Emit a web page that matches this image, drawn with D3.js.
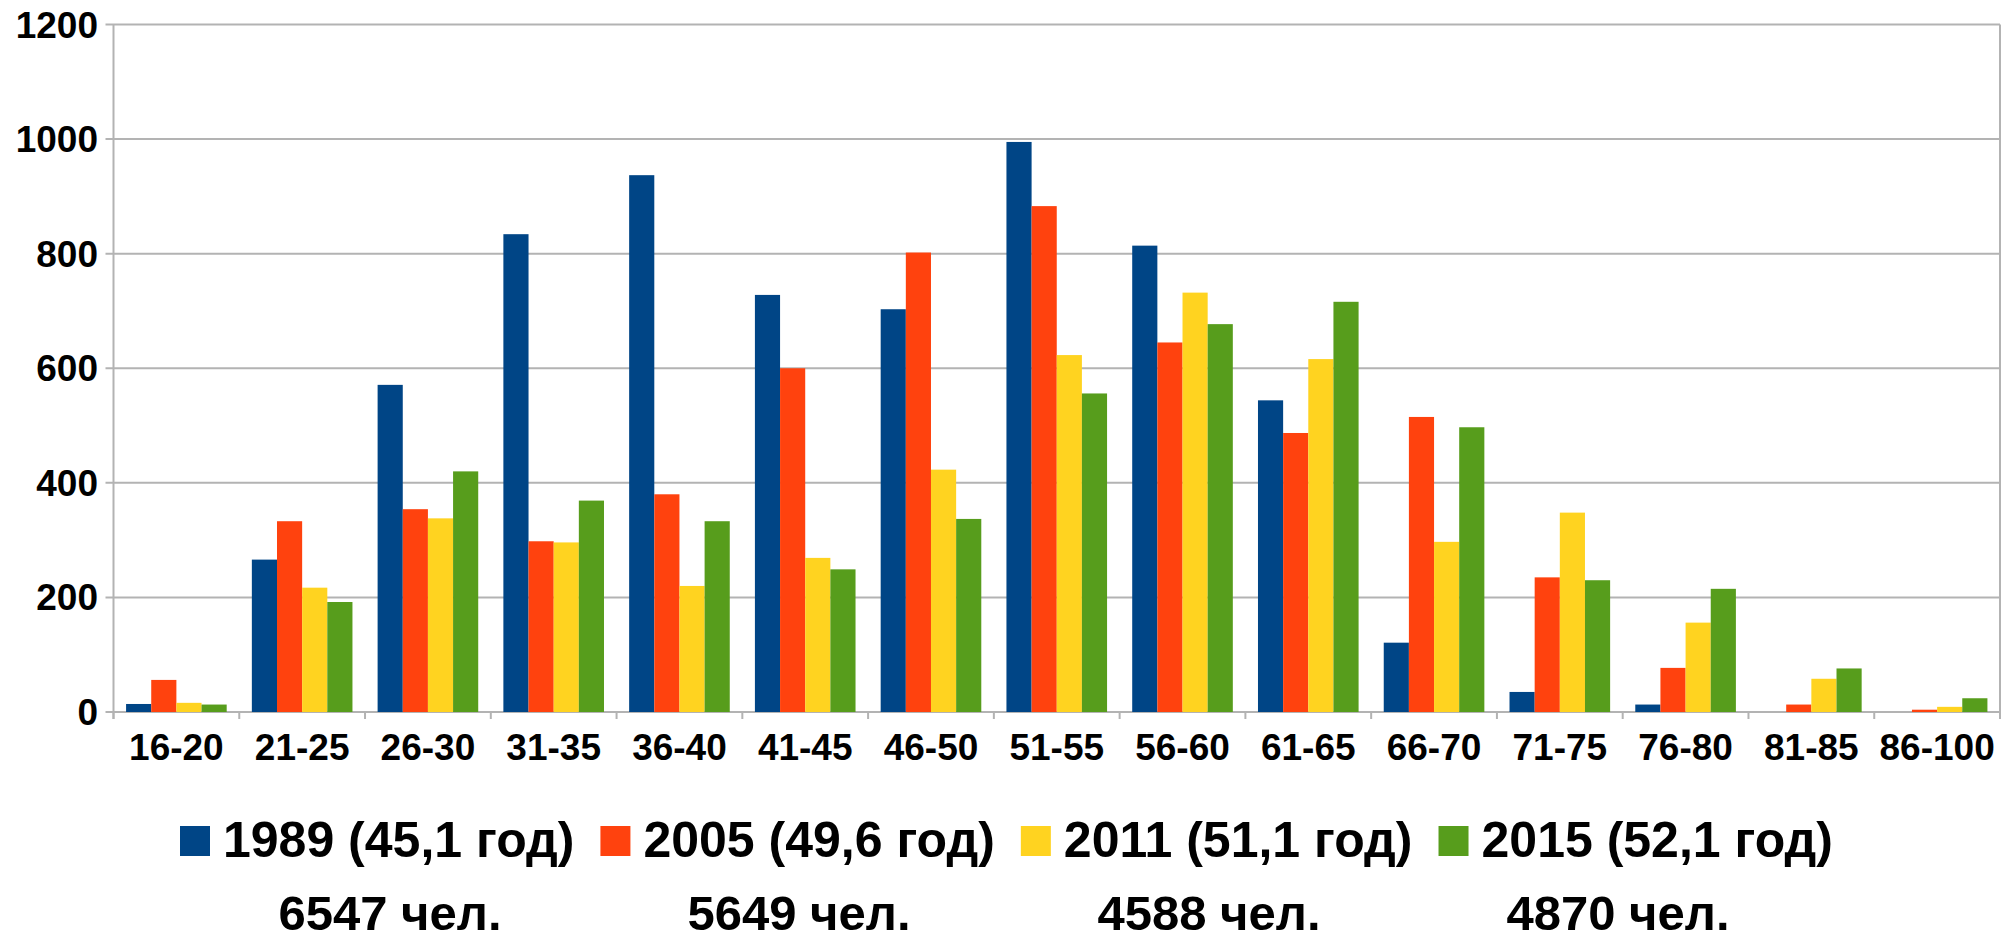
<!DOCTYPE html>
<html>
<head>
<meta charset="utf-8">
<script src="https://d3js.org/d3.v7.min.js"></script>
<style>
  body { margin: 0; background: #fff; }
  text { font-family: "Liberation Sans", Arial, sans-serif; font-weight: bold; fill: #000; }
</style>
</head>
<body>
<svg id="chart" width="2014" height="941"></svg>
<script>
// age groups along the x axis
const ageGroups = ['16-20', '21-25', '26-30', '31-35', '36-40', '41-45', '46-50', '51-55',
  '56-60', '61-65', '66-70', '71-75', '76-80', '81-85', '86-100'];

// people per age group, one array per survey year
const v1989 = [14, 266, 571, 834, 937, 728, 703, 995, 814, 544, 121, 35, 13, 0, 0];
const v2005 = [56, 333, 354, 298, 380, 600, 802, 883, 645, 487, 515, 235, 77, 13, 4];
const v2011 = [16, 217, 338, 296, 220, 269, 423, 623, 732, 616, 297, 348, 156, 58, 9];
const v2015 = [13, 192, 420, 369, 333, 249, 337, 556, 677, 716, 497, 230, 215, 76, 24];

const seriesNames = ['1989 (45,1 год)', '2005 (49,6 год)', '2011 (51,1 год)', '2015 (52,1 год)'];
const totals = ['6547 чел.', '5649 чел.', '4588 чел.', '4870 чел.'];
const yTicks = [0, 200, 400, 600, 800, 1000, 1200];

const colors = ['#004586', '#ff420e', '#ffd320', '#579d1c'];
const series = [v1989, v2005, v2011, v2015];

const svg = d3.select('#chart');
const plotL = 113.5, plotR = 2000, plotT = 24.5, plotB = 712;
const gridColor = '#b3b3b3';

const x = d3.scaleBand().domain(ageGroups).range([plotL, plotR]).paddingInner(0.2).paddingOuter(0.1);
const step = (plotR - plotL) / ageGroups.length;
const xs = d3.scaleBand().domain(d3.range(series.length)).range([0, x.bandwidth()]);
const y = d3.scaleLinear().domain([0, 1200]).range([plotB, plotT]);

// gridlines
svg.append('g')
  .selectAll('line')
  .data(yTicks)
  .join('line')
  .attr('x1', plotL - 8).attr('x2', plotR)
  .attr('y1', d => y(d)).attr('y2', d => y(d))
  .attr('stroke', gridColor).attr('stroke-width', 2);

// right border and y axis line
svg.append('line').attr('x1', plotR).attr('x2', plotR).attr('y1', plotT).attr('y2', plotB)
  .attr('stroke', gridColor).attr('stroke-width', 2);
svg.append('line').attr('x1', plotL).attr('x2', plotL).attr('y1', plotT).attr('y2', plotB + 7)
  .attr('stroke', gridColor).attr('stroke-width', 2);

// category ticks
svg.append('g')
  .selectAll('line')
  .data(d3.range(ageGroups.length + 1))
  .join('line')
  .attr('x1', i => plotL + i * step).attr('x2', i => plotL + i * step)
  .attr('y1', plotB).attr('y2', plotB + 7)
  .attr('stroke', gridColor).attr('stroke-width', 2);

// bars
series.forEach((vals, si) => {
  svg.append('g')
    .selectAll('rect')
    .data(vals)
    .join('rect')
    .attr('x', (d, i) => x(ageGroups[i]) + xs(si))
    .attr('width', xs.bandwidth())
    .attr('y', d => y(d))
    .attr('height', d => y(0) - y(d))
    .attr('fill', colors[si]);
});

// y tick labels
svg.append('g')
  .selectAll('text')
  .data(yTicks)
  .join('text')
  .attr('x', 98)
  .attr('y', d => y(d) + 13)
  .attr('text-anchor', 'end')
  .attr('font-size', 37)
  .text(d => d);

// x labels
svg.append('g')
  .selectAll('text')
  .data(ageGroups)
  .join('text')
  .attr('x', d => x(d) + x.bandwidth() / 2)
  .attr('y', 760)
  .attr('text-anchor', 'middle')
  .attr('font-size', 37)
  .text(d => d);

// legend
let lx = 180;
seriesNames.forEach((name, i) => {
  svg.append('rect')
    .attr('x', lx).attr('y', 826).attr('width', 30).attr('height', 30)
    .attr('fill', colors[i]);
  const t = svg.append('text')
    .attr('x', lx + 43).attr('y', 857)
    .attr('font-size', 50)
    .text(name);
  lx += 43 + t.node().getComputedTextLength() + 26;
});

// totals row
const totalCenters = [390, 799, 1209, 1618];
svg.append('g')
  .selectAll('text')
  .data(totals)
  .join('text')
  .attr('x', (d, i) => totalCenters[i])
  .attr('y', 930)
  .attr('text-anchor', 'middle')
  .attr('font-size', 49)
  .text(d => d);
</script>
</body>
</html>
